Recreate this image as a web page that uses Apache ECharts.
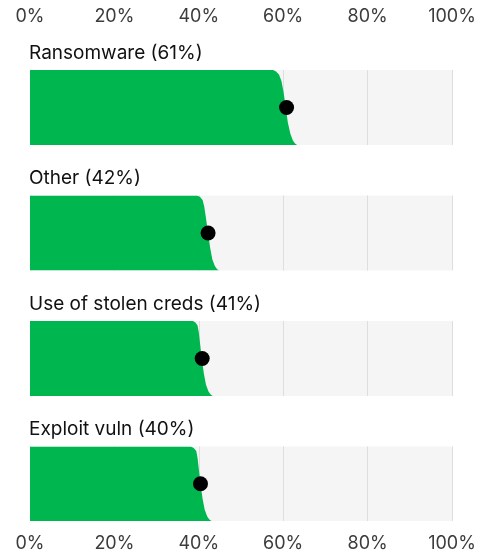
<!DOCTYPE html>
<html>
<head>
<meta charset="utf-8">
<script src="https://cdn.jsdelivr.net/npm/echarts@6/dist/echarts.min.js"></script>
<style>
html,body{margin:0;padding:0;background:#ffffff;}
#chart{width:490px;height:553px;}
</style>
</head>
<body>
<div id="chart"></div>
<script>
// ---- data ----
const categories = ['Ransomware', 'Other', 'Use of stolen creds', 'Exploit vuln'];
const dotValues = [60.8, 42.2, 40.8, 40.4];
const tickValues = [0, 20, 40, 60, 80, 100];
// vertical positions (fraction of band height, top -> bottom) at which the edge is sampled
const edgeFractions = [0, 0.02, 0.06, 0.15, 0.3, 0.5, 0.7, 0.85, 0.94, 0.98, 1];
const edgeRansomware = [57.6, 58.3, 59.0, 59.6, 60.1, 60.6, 61.1, 61.7, 62.3, 62.8, 63.3];
const edgeOther      = [39.6, 40.3, 40.9, 41.3, 41.7, 42.2, 42.7, 43.2, 43.8, 44.3, 44.8];
const edgeStolen     = [38.6, 39.2, 39.7, 40.0, 40.3, 40.7, 41.2, 41.7, 42.3, 42.8, 43.3];
const edgeExploit    = [38.1, 38.8, 39.4, 39.7, 40.0, 40.4, 40.9, 41.4, 42.0, 42.5, 43.0];
const edges = [edgeRansomware, edgeOther, edgeStolen, edgeExploit];

// ---- layout / style ----
const FONT = 'Inter';
const GREEN = '#00b74f';
const bandTops = [70, 195.5, 321, 446.5];
const bandH = 75;
const left = 30, width = 422;

const grids = [], xAxes = [], yAxes = [], series = [], titles = [];
categories.forEach((cat, i) => {
  grids.push({left: left, width: width, top: bandTops[i], height: bandH,
    show: true, backgroundColor: '#f5f5f5', borderWidth: 0, containLabel: false});
  xAxes.push({
    type: 'value', gridIndex: i, min: tickValues[0], max: tickValues[tickValues.length - 1], interval: 20,
    position: i === 0 ? 'top' : 'bottom',
    axisLine: {show: false}, axisTick: {show: false},
    splitLine: {show: true, lineStyle: {color: '#dedede', width: 1}},
    axisLabel: {show: i === 0, formatter: '{value}%', color: '#3c3c3c',
      fontFamily: FONT, fontSize: 18, margin: 44, showMinLabel: true, showMaxLabel: true}
  });
  yAxes.push({type: 'value', gridIndex: i, min: 0, max: 1, inverse: true, show: false});
  titles.push({
    text: cat + ' (' + Math.round(dotValues[i]) + '%)',
    left: left - 1, top: bandTops[i] - 29, padding: 0,
    textStyle: {fontFamily: FONT, fontSize: 19, fontWeight: 'normal', color: '#111111', lineHeight: 24}
  });
});
// bottom axis labels for last band
xAxes.push({
  type: 'value', gridIndex: 3, min: tickValues[0], max: tickValues[tickValues.length - 1], interval: 20, position: 'bottom',
  axisLine: {show: false}, axisTick: {show: false}, splitLine: {show: false},
  axisLabel: {formatter: '{value}%', color: '#3c3c3c', fontFamily: FONT, fontSize: 18, margin: 14,
    showMinLabel: true, showMaxLabel: true}
});

categories.forEach((cat, i) => {
  const edge = edges[i];
  series.push({
    type: 'custom', xAxisIndex: i, yAxisIndex: i, clip: true, silent: true,
    data: edge.map((x, k) => [x, edgeFractions[k]]),
    renderItem: function (params, api) {
      if (params.dataIndex !== 0) return null;
      const pts = [api.coord([0, 0])];
      edge.forEach((x, k) => pts.push(api.coord([x, edgeFractions[k]])));
      pts.push(api.coord([0, 1]));
      return {type: 'polygon', shape: {points: pts}, style: {fill: GREEN}};
    },
    z: 2
  });
  series.push({
    type: 'scatter', xAxisIndex: i, yAxisIndex: i, silent: true,
    data: [[dotValues[i], 0.5]], symbol: 'circle', symbolSize: 15,
    itemStyle: {color: '#000000', opacity: 1}, z: 5
  });
});

const chart = echarts.init(document.getElementById('chart'), null, {renderer: 'canvas'});
chart.setOption({
  backgroundColor: '#ffffff',
  animation: false,
  title: titles,
  grid: grids,
  xAxis: xAxes,
  yAxis: yAxes,
  series: series
});
</script>
</body>
</html>
